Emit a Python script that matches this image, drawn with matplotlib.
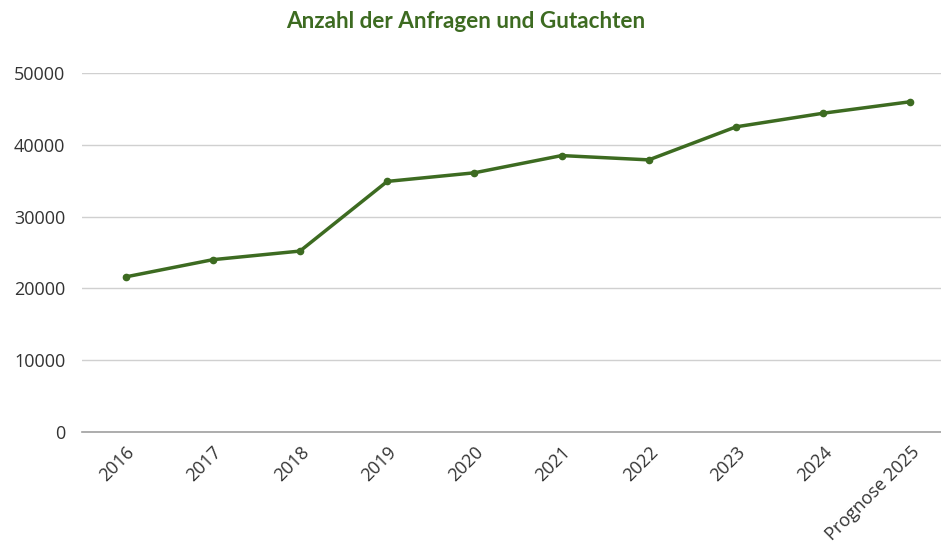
import matplotlib
matplotlib.use("Agg")
import matplotlib.pyplot as plt

categories = ["2016", "2017", "2018", "2019", "2020", "2021", "2022", "2023", "2024", "Prognose 2025"]
values = [21600, 24000, 25200, 34900, 36100, 38500, 37900, 42500, 44400, 46000]
yticks = [0, 10000, 20000, 30000, 40000, 50000]

green = "#3d6b21"
W, H = 941, 542
fig = plt.figure(figsize=(W / 100, H / 100), dpi=100)
left, right, top, bottom = 82, 954, 73, 432
ax = fig.add_axes([left / W, 1 - bottom / H, (right - left) / W, (bottom - top) / H])

x = list(range(len(categories)))
ax.plot(x, values, color=green, lw=2.5, marker="o", ms=4.5, zorder=3)
ax.set_xlim(-0.5, len(categories) - 0.5)
ax.set_ylim(0, 50000)
ax.set_yticks(yticks)
ax.set_yticklabels([str(v) for v in yticks], fontsize=13, color="#333333", family="Open Sans")
ax.set_xticks(x)
ax.set_xticklabels(categories, rotation=45, ha="right", rotation_mode="anchor",
                   fontsize=13, color="#333333", family="Open Sans")
ax.tick_params(axis="both", length=0, pad=12)
ax.tick_params(axis="x", pad=8)
ax.grid(axis="y", color="#d0d0d0", lw=1)
ax.set_axisbelow(True)
for s in ["top", "right", "left"]:
    ax.spines[s].set_visible(False)
ax.spines["bottom"].set_color("#a0a0a0")
ax.spines["bottom"].set_linewidth(1.2)

fig.text(466 / W, 1 - 22 / H, "Anzahl der Anfragen und Gutachten", ha="center", va="center",
         fontsize=16.2, fontweight="bold", color=green, family="Lato")

fig.savefig("out.png", dpi=100)
